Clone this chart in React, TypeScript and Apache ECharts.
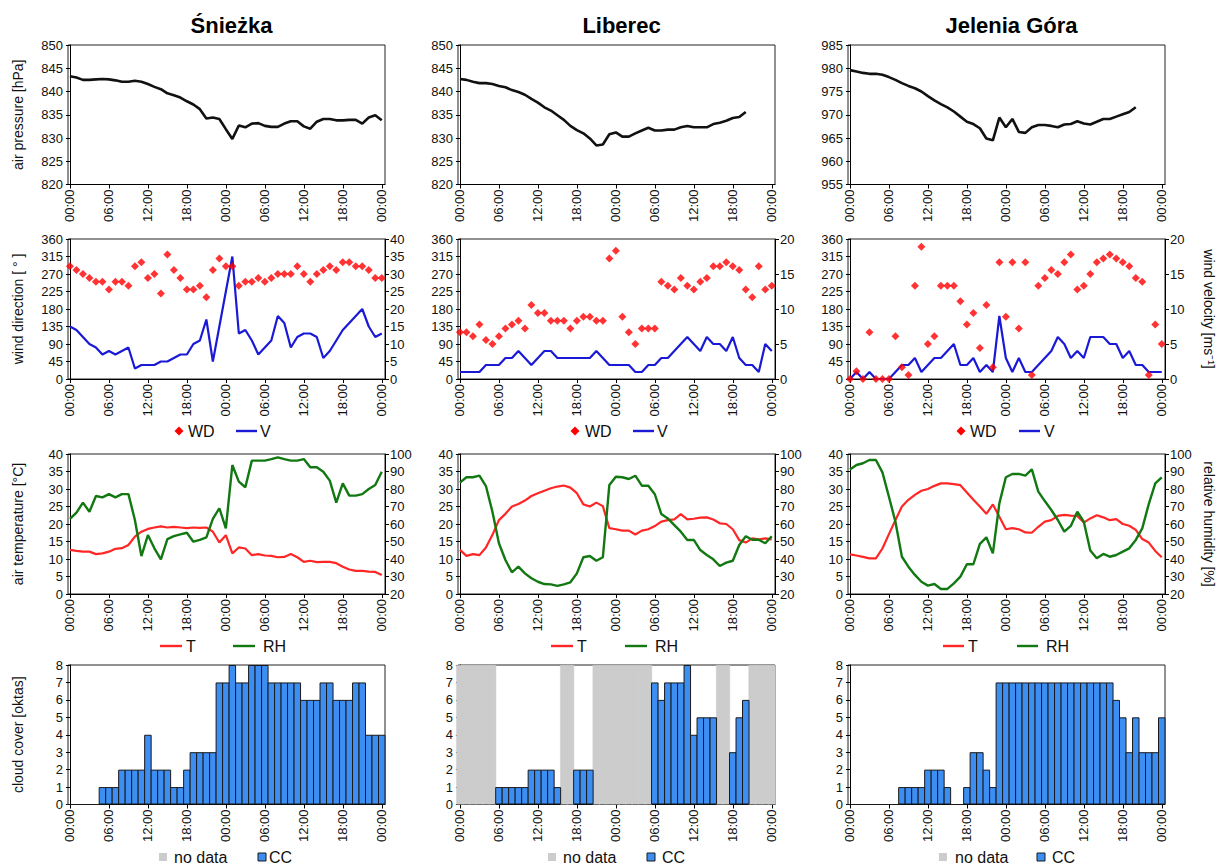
import React, { useEffect, useRef } from 'react';
import * as echarts from 'echarts';

const STATIONS = ['Śnieżka', 'Liberec', 'Jelenia Góra'];
const TICK_HOURS = [0, 6, 12, 18, 24, 30, 36, 42, 48];
const TICK_LABELS = ['00:00', '06:00', '12:00', '18:00', '00:00', '06:00', '12:00', '18:00', '00:00'];

// air pressure [hPa], hourly
const P_SNIEZKA = [843.3, 843.0, 842.5, 842.5, 842.6, 842.7, 842.6, 842.4, 842.1, 842.1, 842.3, 842.1, 841.6, 841.0, 840.5, 839.6, 839.2, 838.7, 837.9, 837.2, 836.2, 834.2, 834.4, 834.1, 831.9, 829.8, 832.7, 832.3, 833.1, 833.2, 832.6, 832.4, 832.4, 833.1, 833.6, 833.6, 832.5, 832.0, 833.5, 834.1, 834.1, 833.8, 833.8, 833.9, 833.9, 833.1, 834.4, 834.9, 833.8];
const P_LIBEREC = [842.7, 842.5, 842.1, 841.8, 841.8, 841.6, 841.2, 840.9, 840.3, 839.9, 839.3, 838.4, 837.6, 836.6, 835.9, 834.9, 833.9, 832.6, 831.7, 831.0, 829.9, 828.4, 828.6, 830.8, 831.2, 830.3, 830.3, 831.0, 831.6, 832.2, 831.6, 831.6, 831.8, 831.8, 832.3, 832.6, 832.3, 832.3, 832.3, 833.0, 833.3, 833.7, 834.3, 834.5, 835.6];
const P_JELENIA = [979.6, 979.3, 979.0, 978.8, 978.8, 978.6, 978.1, 977.5, 976.8, 976.2, 975.7, 975.0, 974.0, 973.1, 972.3, 971.6, 970.7, 969.6, 968.5, 968.0, 967.1, 964.9, 964.5, 969.4, 967.3, 969.1, 966.3, 966.1, 967.3, 967.8, 967.8, 967.6, 967.3, 967.9, 968.0, 968.6, 968.1, 967.9, 968.5, 969.1, 969.1, 969.6, 970.1, 970.6, 971.6];

// wind direction [deg]
const WD_SNIEZKA = [290, 280, 270, 260, 250, 250, 230, 250, 250, 240, 290, 300, 260, 270, 220, 320, 280, 260, 230, 230, 240, 210, 280, 310, 290, 290, 240, 250, 250, 260, 250, 260, 270, 270, 270, 290, 270, 250, 270, 280, 290, 280, 300, 300, 290, 290, 280, 260, 260];
const WD_LIBEREC = [120, 120, 110, 140, 100, 90, 110, 130, 140, 150, 130, 190, 170, 170, 150, 150, 150, 130, 150, 160, 160, 150, 150, 310, 330, 160, 120, 90, 130, 130, 130, 250, 240, 230, 260, 240, 230, 250, 260, 290, 290, 300, 290, 280, 230, 210, 290, 230, 240];
const WD_JELENIA = [0, 20, 0, 120, 0, 0, 0, 110, 30, 10, 240, 340, 90, 110, 240, 240, 240, 200, 140, 170, 80, 190, 30, 300, 160, 300, 130, 300, 10, 240, 260, 280, 270, 300, 320, 230, 240, 270, 300, 310, 320, 310, 300, 290, 260, 250, 10, 140, 90];

// wind velocity [m/s]
const V_SNIEZKA = [15, 14, 12, 10, 9, 7, 8, 7, 8, 9, 3, 4, 4, 4, 5, 5, 6, 7, 7, 10, 11, 17, 5, 15, 25, 35, 13, 14, 11, 7, 9, 11, 18, 16, 9, 12, 13, 13, 12, 6, 8, 11, 14, 16, 18, 20, 15, 12, 13];
const V_LIBEREC = [1, 1, 1, 1, 2, 2, 2, 3, 3, 4, 3, 2, 3, 4, 4, 3, 3, 3, 3, 3, 3, 4, 3, 2, 2, 2, 2, 1, 1, 2, 2, 3, 3, 4, 5, 6, 5, 4, 6, 5, 5, 4, 6, 3, 2, 2, 1, 5, 4];
const V_JELENIA = [0, 1, 0, 1, 0, 0, 0, 1, 2, 2, 3, 1, 2, 3, 3, 4, 5, 2, 2, 3, 1, 2, 1, 9, 3, 1, 3, 1, 1, 2, 3, 4, 6, 5, 3, 4, 3, 6, 6, 6, 5, 5, 3, 4, 2, 2, 1, 1, 1];

// air temperature [C]
const T_SNIEZKA = [12.6, 12.3, 12.1, 12.1, 11.4, 11.6, 12.1, 12.9, 13.1, 14.0, 16.4, 17.8, 18.6, 19.0, 19.3, 19.0, 19.2, 19.0, 18.8, 19.0, 18.9, 19.0, 17.8, 14.7, 16.8, 11.6, 13.3, 13.0, 11.1, 11.4, 11.0, 10.9, 10.5, 10.6, 11.4, 10.5, 9.2, 9.5, 9.1, 9.2, 9.2, 8.8, 7.8, 7.0, 6.6, 6.6, 6.4, 6.3, 5.4];
const T_LIBEREC = [12.6, 10.9, 11.4, 11.1, 13.3, 16.9, 21.1, 22.9, 25.0, 25.7, 26.7, 28.0, 28.8, 29.5, 30.2, 30.7, 31.0, 30.4, 28.8, 25.6, 25.0, 26.1, 25.1, 18.8, 18.5, 18.1, 18.1, 17.0, 18.1, 18.5, 19.4, 20.7, 21.1, 21.3, 22.8, 21.3, 21.5, 21.8, 21.9, 21.3, 20.2, 20.0, 18.5, 15.4, 14.7, 15.9, 15.6, 15.9, 15.6];
const T_JELENIA = [11.3, 11.0, 10.6, 10.2, 10.2, 13.0, 17.1, 21.1, 25.0, 26.9, 28.3, 29.5, 30.0, 30.9, 31.6, 31.6, 31.4, 31.1, 29.0, 26.9, 25.0, 22.9, 25.6, 22.1, 18.5, 18.8, 18.5, 17.6, 17.5, 19.2, 20.7, 21.1, 22.3, 22.6, 22.4, 22.3, 20.4, 21.6, 22.5, 21.9, 21.1, 21.4, 20.0, 19.5, 18.3, 15.7, 14.7, 12.3, 10.5];

// relative humidity [%]
const RH_SNIEZKA = [62.9, 66.5, 72.2, 67.0, 76.0, 75.2, 77.1, 75.2, 77.1, 77.1, 62.3, 41.7, 53.7, 46.1, 39.8, 51.4, 53.1, 54.1, 55.0, 49.9, 50.9, 52.4, 62.9, 69.0, 57.5, 93.7, 84.2, 81.0, 96.2, 96.2, 96.2, 97.1, 98.1, 97.1, 96.2, 96.2, 97.1, 92.4, 92.4, 89.9, 84.8, 72.2, 83.2, 76.2, 76.2, 77.1, 80.0, 82.3, 89.9];
const RH_LIBEREC = [83.6, 86.7, 86.7, 87.6, 81.7, 67.0, 49.0, 39.4, 32.4, 35.6, 31.8, 29.0, 27.0, 25.7, 25.5, 24.6, 25.5, 26.7, 31.8, 41.0, 41.7, 39.0, 41.0, 82.3, 87.0, 86.7, 85.7, 87.6, 81.9, 81.9, 77.0, 65.7, 63.2, 59.4, 55.6, 50.9, 50.9, 45.1, 42.3, 39.8, 36.0, 37.9, 39.0, 48.0, 53.0, 51.0, 51.0, 49.0, 53.0];
const RH_JELENIA = [91.2, 93.7, 94.7, 96.6, 96.6, 89.5, 75.6, 61.3, 41.3, 35.6, 30.9, 27.0, 24.8, 25.7, 22.9, 22.9, 26.1, 29.9, 37.0, 37.0, 48.6, 52.4, 43.2, 71.8, 86.7, 88.6, 88.6, 87.6, 91.2, 78.5, 73.1, 68.0, 62.3, 55.6, 58.9, 67.0, 61.3, 44.8, 40.4, 42.9, 41.3, 42.3, 44.2, 46.1, 50.9, 57.5, 71.4, 83.2, 86.7];

// cloud cover [oktas]; null = no data
const CC_SNIEZKA = [0, 0, 0, 0, 0, 1, 1, 1, 2, 2, 2, 2, 4, 2, 2, 2, 1, 1, 2, 3, 3, 3, 3, 7, 7, 8, 7, 7, 8, 8, 8, 7, 7, 7, 7, 7, 6, 6, 6, 7, 7, 6, 6, 6, 7, 7, 4, 4, 4];
const CC_LIBEREC = [null, null, null, null, null, null, 1, 1, 1, 1, 1, 2, 2, 2, 2, 1, null, null, 2, 2, 2, null, null, null, null, null, null, null, null, null, 7, 6, 7, 7, 7, 8, 4, 5, 5, 5, null, null, 3, 5, 6, null, null, null, null];
const CC_JELENIA = [0, 0, 0, 0, 0, 0, 0, 0, 1, 1, 1, 1, 2, 2, 2, 1, 0, 0, 1, 3, 3, 2, 1, 7, 7, 7, 7, 7, 7, 7, 7, 7, 7, 7, 7, 7, 7, 7, 7, 7, 7, 6, 5, 3, 5, 3, 3, 3, 5];
// "no data" hours drawn as full-height grey bars
const ND_SNIEZKA = [null, null, null, null, null, null, null, null, null, null, null, null, null, null, null, null, null, null, null, null, null, null, null, null, null, null, null, null, null, null, null, null, null, null, null, null, null, null, null, null, null, null, null, null, null, null, null, null, null];
const ND_LIBEREC = [8, 8, 8, 8, 8, 8, null, null, null, null, null, null, null, null, null, null, 8, 8, null, null, null, 8, 8, 8, 8, 8, 8, 8, 8, 8, null, null, null, null, null, null, null, null, null, null, 8, 8, null, null, null, 8, 8, 8, 8];
const ND_JELENIA = [null, null, null, null, null, null, null, null, null, null, null, null, null, null, null, null, null, null, null, null, null, null, null, null, null, null, null, null, null, null, null, null, null, null, null, null, null, null, null, null, null, null, null, null, null, null, null, null, null];

const P_DATA = [P_SNIEZKA, P_LIBEREC, P_JELENIA];
const WD_DATA = [WD_SNIEZKA, WD_LIBEREC, WD_JELENIA];
const V_DATA = [V_SNIEZKA, V_LIBEREC, V_JELENIA];
const T_DATA = [T_SNIEZKA, T_LIBEREC, T_JELENIA];
const RH_DATA = [RH_SNIEZKA, RH_LIBEREC, RH_JELENIA];
const CC_DATA = [CC_SNIEZKA, CC_LIBEREC, CC_JELENIA];
const ND_DATA = [ND_SNIEZKA, ND_LIBEREC, ND_JELENIA];

const P_RANGE = [[820, 850], [820, 850], [955, 985]];
const V_MAX = [40, 20, 20];

const LEFT_NAMES = ['air pressure [hPa]', 'wind direction [ ° ]', 'air temperature [°C]', 'cloud cover [oktas]'];

// layout
const FONT = '"Liberation Sans", Arial, Helvetica, sans-serif';
const COL_LEFT = [68, 458, 848];
const GRID_W = 317;
const ROW_TOP = [45, 239, 454, 665];
const ROW_H = [139.5, 140, 140, 139.5];
const X_MIN = -0.3;
const X_MAX = 48.5;
const HOUR_PX = GRID_W / (X_MAX - X_MIN);

const C_WD = '#ff0000';
const C_V = '#1a1ad6';
const C_T = '#ff2626';
const C_RH = '#127812';
const C_CC = '#3d8ef2';
const C_ND = '#cccccc';

const pts = (arr: (number | null)[]) => arr.map((v, i) => [i, v]);

function buildOption() {
  const grid: any[] = [];
  const xAxis: any[] = [];
  const yAxis: any[] = [];
  const series: any[] = [];

  for (let r = 0; r < 4; r++) {
    for (let c = 0; c < 3; c++) {
      const gi = r * 3 + c;
      grid.push({
        left: COL_LEFT[c], top: ROW_TOP[r], width: GRID_W, height: ROW_H[r],
        show: true, borderColor: '#222', borderWidth: 1, backgroundColor: 'transparent',
      });
      xAxis.push({
        type: 'value', gridIndex: gi, min: X_MIN, max: X_MAX,
        axisLine: { show: true, onZero: false, lineStyle: { color: '#000', width: 1 } },
        axisTick: { show: true, customValues: TICK_HOURS, length: 4, lineStyle: { color: '#000' } },
        axisLabel: {
          customValues: TICK_HOURS, rotate: 90, fontSize: 13, color: '#111', margin: 5, fontFamily: FONT,
          formatter: (v: number) => TICK_LABELS[TICK_HOURS.indexOf(Math.round(v))] ?? '',
        },
        splitLine: { show: false },
      });
    }
  }

  const leftRange = (r: number, c: number) => {
    if (r === 0) return { min: P_RANGE[c][0], max: P_RANGE[c][1], interval: 5 };
    if (r === 1) return { min: 0, max: 360, interval: 45 };
    if (r === 2) return { min: 0, max: 40, interval: 5 };
    return { min: 0, max: 8, interval: 1 };
  };

  const baseY = {
    type: 'value',
    axisLine: { show: true, lineStyle: { color: '#000', width: 1 } },
    axisTick: { show: true, length: 4, lineStyle: { color: '#000' } },
    axisLabel: { fontSize: 13, color: '#111', margin: 5, fontFamily: FONT },
    splitLine: { show: false },
    nameLocation: 'middle',
    nameTextStyle: { fontSize: 14, color: '#111', fontFamily: FONT },
  };

  for (let r = 0; r < 4; r++) {
    for (let c = 0; c < 3; c++) {
      const gi = r * 3 + c;
      yAxis.push({
        ...baseY, gridIndex: gi, position: 'left', ...leftRange(r, c),
        name: c === 0 ? LEFT_NAMES[r] : '', nameGap: 43,
      });
    }
  }
  // right axes rows 1 and 2
  for (let r = 1; r <= 2; r++) {
    for (let c = 0; c < 3; c++) {
      const gi = r * 3 + c;
      const rng = r === 1 ? { min: 0, max: V_MAX[c], interval: 5 } : { min: 20, max: 100, interval: 10 };
      yAxis.push({
        ...baseY, gridIndex: gi, position: 'right', ...rng,
        name: c === 2 ? (r === 1 ? 'wind velocity [ms⁻¹]' : 'relative humidity [%]') : '',
        nameGap: 37, nameRotate: -90,
      });
    }
  }
  const rightIdx = (r: number, c: number) => 12 + (r - 1) * 3 + c;

  for (let c = 0; c < 3; c++) {
    // pressure
    series.push({
      type: 'line', name: 'p', xAxisIndex: c, yAxisIndex: c, data: pts(P_DATA[c]),
      symbol: 'none', lineStyle: { color: '#111', width: 2.6 }, itemStyle: { color: '#111' },
    });
    // wind
    series.push({
      type: 'scatter', name: 'WD', xAxisIndex: 3 + c, yAxisIndex: 3 + c, data: pts(WD_DATA[c]),
      symbol: 'diamond', symbolSize: 8, itemStyle: { color: C_WD }, z: 3,
    });
    series.push({
      type: 'line', name: 'V', xAxisIndex: 3 + c, yAxisIndex: rightIdx(1, c), data: pts(V_DATA[c]),
      symbol: 'none', lineStyle: { color: C_V, width: 2.2 }, itemStyle: { color: C_V }, z: 2,
    });
    // temperature & humidity
    series.push({
      type: 'line', name: 'T', xAxisIndex: 6 + c, yAxisIndex: 6 + c, data: pts(T_DATA[c]),
      symbol: 'none', lineStyle: { color: C_T, width: 2.2 }, itemStyle: { color: C_T },
    });
    series.push({
      type: 'line', name: 'RH', xAxisIndex: 6 + c, yAxisIndex: rightIdx(2, c), data: pts(RH_DATA[c]),
      symbol: 'none', lineStyle: { color: C_RH, width: 2.4 }, itemStyle: { color: C_RH },
    });
    // cloud cover
    series.push({
      type: 'bar', name: 'no data', xAxisIndex: 9 + c, yAxisIndex: 9 + c, data: pts(ND_DATA[c]),
      stack: 'cc' + c, barWidth: HOUR_PX + 1, itemStyle: { color: C_ND, borderColor: C_ND, borderWidth: 0.5 },
    });
    series.push({
      type: 'bar', name: 'CC', xAxisIndex: 9 + c, yAxisIndex: 9 + c, data: pts(CC_DATA[c]),
      stack: 'cc' + c, barWidth: HOUR_PX + 1, itemStyle: { color: C_CC, borderColor: '#1a1a1a', borderWidth: 1 },
    });
  }

  // legends drawn as graphics
  const graphic: any[] = [];
  const txt = (x: number, y: number, s: string) => ({
    type: 'text', x, y,
    style: { text: s, fontSize: 16, fontFamily: FONT, fill: '#111', align: 'left', verticalAlign: 'middle', textAlign: 'left', textVerticalAlign: 'middle' },
  });
  const hline = (x1: number, x2: number, y: number, color: string, w: number) => ({
    type: 'line', shape: { x1, y1: y, x2, y2: y }, style: { stroke: color, lineWidth: w },
  });
  const diamond = (cx: number, cy: number) => ({
    type: 'polygon', shape: { points: [[cx, cy - 4.5], [cx + 4.5, cy], [cx, cy + 4.5], [cx - 4.5, cy]] }, style: { fill: C_WD },
  });
  const sq = (x: number, y: number, fill: string, stroke?: string) => ({
    type: 'rect', shape: { x, y: y - 4, width: 8, height: 8 },
    style: stroke ? { fill, stroke, lineWidth: 1 } : { fill },
  });

  const windLeg = [
    { d: 179, wd: 188, l1: 236, l2: 257, v: 260 },
    { d: 575, wd: 585, l1: 633, l2: 654, v: 657 },
    { d: 961, wd: 970, l1: 1019, l2: 1040, v: 1044 },
  ];
  windLeg.forEach((p) => {
    graphic.push(diamond(p.d, 431), txt(p.wd, 431, 'WD'), hline(p.l1, p.l2, 431, C_V, 2.4), txt(p.v, 431, 'V'));
  });
  const thLeg = [
    { t1: 160, t2: 182, t: 186, r1: 233, r2: 255, rh: 263 },
    { t1: 551, t2: 573, t: 577, r1: 625, r2: 647, rh: 655 },
    { t1: 943, t2: 964, t: 968, r1: 1017, r2: 1038, rh: 1046 },
  ];
  thLeg.forEach((p) => {
    graphic.push(hline(p.t1, p.t2, 646, C_T, 2.4), txt(p.t, 646, 'T'), hline(p.r1, p.r2, 646, C_RH, 2.4), txt(p.rh, 646, 'RH'));
  });
  const ccLeg = [
    { n: 159, nt: 174, c: 258, ct: 269 },
    { n: 548, nt: 563, c: 647, ct: 662 },
    { n: 939, nt: 955, c: 1037, ct: 1052 },
  ];
  ccLeg.forEach((p) => {
    graphic.push(sq(p.n, 857, C_ND), txt(p.nt, 857, 'no data'), sq(p.c, 857, C_CC, '#1a1a1a'), txt(p.ct, 857, 'CC'));
  });

  return {
    animation: false,
    backgroundColor: '#fff',
    textStyle: { fontFamily: FONT },
    title: STATIONS.map((s, c) => ({
      text: s, left: COL_LEFT[c] + GRID_W / 2, top: 9, textAlign: 'center',
      textStyle: { fontSize: 22, fontWeight: 'bold', color: '#000', fontFamily: FONT },
    })),
    grid, xAxis, yAxis, series, graphic,
  };
}

export default function App() {
  const ref = useRef<HTMLDivElement>(null);
  useEffect(() => {
    if (!ref.current) return;
    const chart = echarts.init(ref.current, undefined, { renderer: 'svg' });
    chart.setOption(buildOption() as any);
    return () => chart.dispose();
  }, []);
  return <div ref={ref} style={{ position: 'absolute', left: 0, top: 0, width: 1227, height: 866, background: '#fff' }} />;
}
